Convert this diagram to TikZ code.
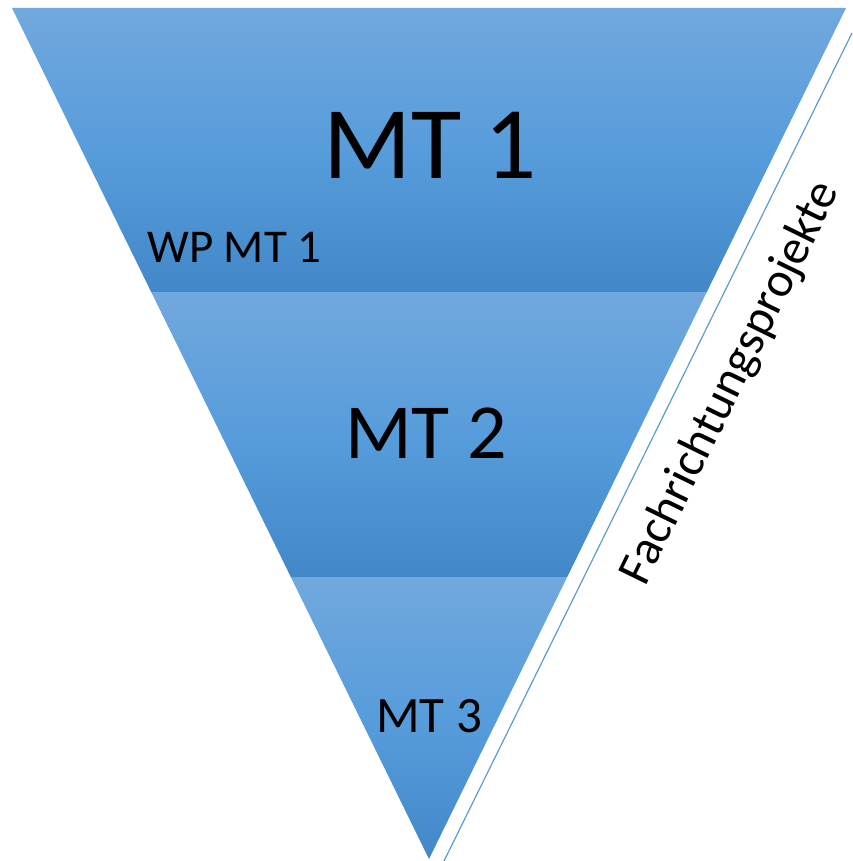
\documentclass[tikz,border=0pt]{standalone}
\usepackage{fontspec}
\setmainfont{Carlito}
\usepackage{tikz}

\definecolor{bandtop}{RGB}{113,168,221}
\definecolor{bandmid}{RGB}{87,156,219}
\definecolor{bandbot}{RGB}{66,135,199}
\definecolor{rulecol}{RGB}{91,155,213}
\tikzset{band/.style={top color=bandtop,bottom color=bandbot,middle color=bandmid},
  lbl/.style={inner sep=0pt,text=black}}

\begin{document}
\begin{tikzpicture}[x=1pt,y=-1pt]
  \useasboundingbox (0,0) rectangle (852,861);
  % the three bands
  \shade[band] (12,8) -- (846,8) -- (706.8,292) -- (151.2,292) -- cycle;
  \shade[band] (151.2,292) -- (706.8,292) -- (567.2,577) -- (290.8,577) -- cycle;
  \shade[band] (290.8,577) -- (567.2,577) -- (429,859) -- cycle;
  % labels
  \node[lbl] (mt1) at (430,145) {\fontsize{103}{110}\selectfont MT 1};
  \node[lbl,anchor=west] (wp) at (147,247) {\fontsize{47}{52}\selectfont WP MT 1};
  \node[lbl] (mt2) at (426,433) {\fontsize{78}{84}\selectfont MT 2};
  \node[lbl] (mt3) at (429,716) {\fontsize{51}{56}\selectfont MT 3};
  \node[lbl,rotate=63.9] (fach) at (731,383) {\fontsize{49}{54}\selectfont Fachrichtungsprojekte};
  % side rule
  \coordinate (r1) at (852,33);
  \coordinate (r2) at (444,861);
  \draw[rulecol,line width=1.2pt] (r1) -- (r2);
\end{tikzpicture}
\end{document}
